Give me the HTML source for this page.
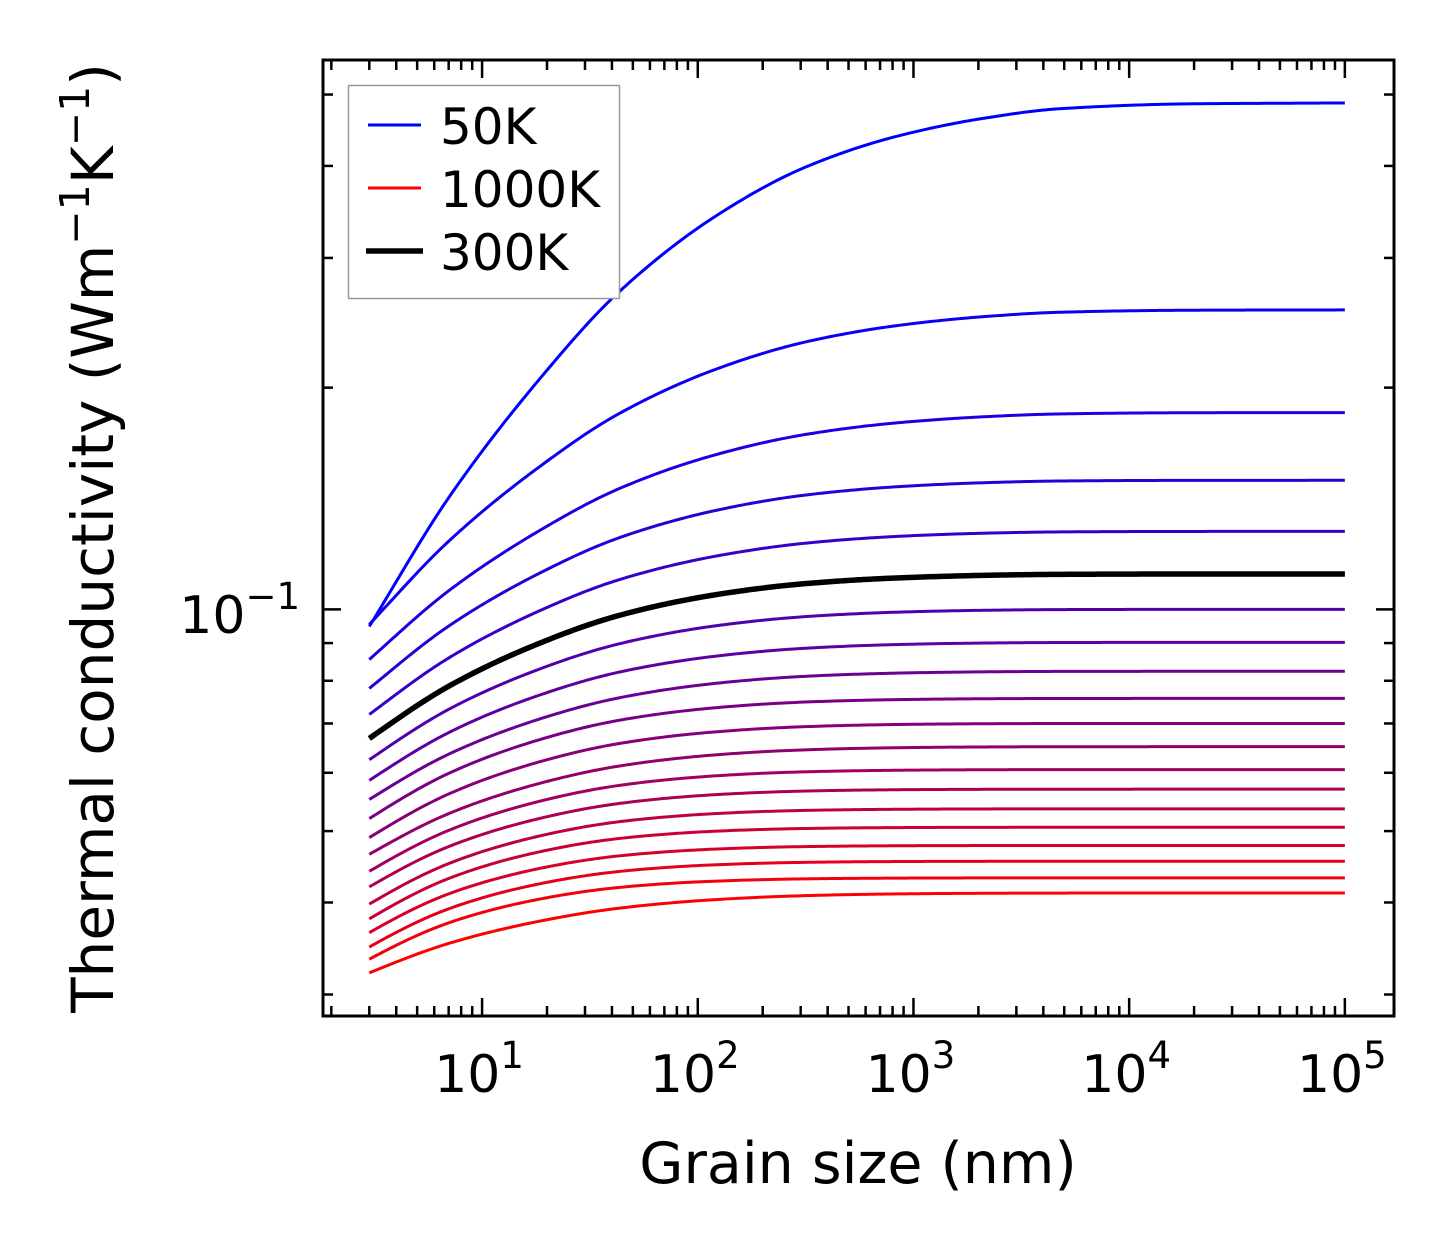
<!DOCTYPE html>
<html><head><meta charset="utf-8"><style>
html,body{margin:0;padding:0;background:#fff;}
svg{display:block;font-family:"DejaVu Sans","Liberation Sans",sans-serif;}
</style></head><body>
<svg id="chart" width="1454" height="1254" viewBox="0 0 1454 1254" xmlns="http://www.w3.org/2000/svg">
<rect width="1454" height="1254" fill="#fff"/>
<g id="curves"></g>
<g id="ticks"></g>
<rect x="323" y="60" width="1071" height="956" fill="none" stroke="#000" stroke-width="3"/>
<g id="xlabels" font-size="52" text-anchor="middle"></g>
<g font-size="52" text-anchor="end">
<text x="300" y="633">10<tspan font-size="37" dy="-24">−1</tspan></text>
</g>
<text x="858" y="1183" font-size="57" text-anchor="middle">Grain size (nm)</text>
<text transform="translate(113,538) rotate(-90)" font-size="58" text-anchor="middle">Thermal conductivity (Wm<tspan font-size="41" dy="-24">−1</tspan><tspan dy="24">K</tspan><tspan font-size="41" dy="-24">−1</tspan><tspan dy="24">)</tspan></text>
<g>
<rect x="348.5" y="85.5" width="271" height="213" fill="#fff" stroke="#999" stroke-width="1.5"/>
<line x1="368" y1="125" x2="421" y2="125" stroke="#0000ff" stroke-width="3"/>
<text x="440" y="144" font-size="50">50K</text>
<line x1="368" y1="188" x2="421" y2="188" stroke="#ff0000" stroke-width="3"/>
<text x="440" y="207" font-size="50">1000K</text>
<line x1="366" y1="251" x2="423" y2="251" stroke="#000" stroke-width="5.5"/>
<text x="440" y="270" font-size="50">300K</text>
</g>
</svg>
<script>
// Data
const temperatures = [50,100,150,200,250,300,350,400,450,500,550,600,650,700,750,800,850,900,950,1000];
const kAt3nm  = [0.0948,0.0954,0.0855,0.0781,0.0720,0.0668,0.0625,0.0586,0.0552,0.0520,0.0490,0.0465,0.0441,0.0420,0.0398,0.0380,0.0364,0.0348,0.0335,0.0321];
const kAt20nm = [0.2112,0.1589,0.1297,0.1133,0.1006,0.0908,0.0837,0.0771,0.0715,0.0670,0.0625,0.0584,0.0552,0.0523,0.0495,0.0471,0.0447,0.0426,0.0406,0.0379];
const kBulk   = [0.487,0.255,0.185,0.1497,0.1276,0.1117,0.1000,0.0902,0.0824,0.0757,0.0700,0.0651,0.0606,0.0570,0.0536,0.0506,0.0478,0.0455,0.0432,0.0412];
// normalized approach-to-bulk shape
const grainSizes = [3,7.03,18.4,43.1,123,318,830,2143,4775,20000,100000];
const shapeFrac  = [1,0.761,0.541,0.375,0.227,0.132,0.071,0.033,0.013,0.002,0];
const highlightT = 300;
const xTicks = [10,100,1000,10000,100000];
const xTickLabels = ["1","2","3","4","5"];

// Axes
const X0=323,X1=1394,Y0=60,Y1=1016;
const xMinL=Math.log10(1.83), xMaxL=Math.log10(169000);
const yMinL=Math.log10(0.02805), yMaxL=Math.log10(0.557);
const xs=v=>X0+(Math.log10(v)-xMinL)/(xMaxL-xMinL)*(X1-X0);
const ys=v=>Y1-(Math.log10(v)-yMinL)/(yMaxL-yMinL)*(Y1-Y0);
const NS="http://www.w3.org/2000/svg";
function mk(tag,attrs,parent){const e=document.createElementNS(NS,tag);for(const k in attrs)e.setAttribute(k,attrs[k]);parent.appendChild(e);return e;}

// smooth monotone interpolation of shape in log-size space
const LX=grainSizes.map(g=>Math.log10(g));
const nS=LX.length,dX=[],mS=[],tS=[];
for(let i=0;i<nS-1;i++){dX[i]=LX[i+1]-LX[i];mS[i]=(shapeFrac[i+1]-shapeFrac[i])/dX[i];}
tS[0]=mS[0];tS[nS-1]=mS[nS-2];
for(let i=1;i<nS-1;i++){
  if(mS[i-1]*mS[i]<=0){tS[i]=0;continue;}
  const w1=2*dX[i]+dX[i-1],w2=dX[i]+2*dX[i-1];
  tS[i]=(w1+w2)/(w1/mS[i-1]+w2/mS[i]);
}
function shapeAt(L){
  const l=Math.log10(L);
  for(let j=0;j<nS-1;j++){
    if(l>=LX[j]-1e-9&&l<=LX[j+1]+1e-9){
      const h=dX[j],s=(l-LX[j])/h,s2=s*s,s3=s2*s;
      return (2*s3-3*s2+1)*shapeFrac[j]+(s3-2*s2+s)*h*tS[j]+(-2*s3+3*s2)*shapeFrac[j+1]+(s3-s2)*h*tS[j+1];
    }
  }
  return 0;
}
function seriesPath(i){
  const a=Math.log10(kAt3nm[i]),b=Math.log10(kBulk[i]),c=Math.log10(kAt20nm[i]);
  const h20=Math.min(0.99,Math.max(0.01,(b-c)/(b-a)));
  const p=Math.log(h20)/Math.log(shapeAt(20));
  const l0=Math.log10(grainSizes[0]),l1=Math.log10(grainSizes[nS-1]);
  let d='';
  for(let s=0;s<=300;s++){
    const L=Math.pow(10,l0+(l1-l0)*s/300);
    const h=Math.max(0,shapeAt(L));
    const y=ys(Math.pow(10,b-(b-a)*Math.pow(h,p)));
    d+=(s?'L':'M')+xs(L).toFixed(2)+','+y.toFixed(2);
  }
  return d;
}
const cg=document.getElementById('curves');
const n=temperatures.length;
let hi=-1;
for(let i=0;i<n;i++){
  const t=i/(n-1);
  const col=`rgb(${Math.round(255*t)},0,${Math.round(255*(1-t))})`;
  const p=mk('path',{d:seriesPath(i),fill:'none',stroke:col,'stroke-width':3,'stroke-linejoin':'round'},cg);
  
  
  if(temperatures[i]===highlightT)hi=i;
}
if(hi>=0){
  const p=mk('path',{d:seriesPath(hi),fill:'none',stroke:'#000','stroke-width':5.5,'stroke-linejoin':'round'},cg);
  
  
}

// ticks
const tg=document.getElementById('ticks');
function tick(x1,y1,x2,y2){mk('line',{x1,y1,x2,y2,stroke:'#000','stroke-width':2.5},tg);}
for(let e=0;e<=5;e++){
  for(let m=1;m<10;m++){
    const v=m*Math.pow(10,e);const x=xs(v);
    if(x<X0+1||x>X1-1)continue;
    const L=m===1?18:10;
    tick(x,Y1,x,Y1-L);tick(x,Y0,x,Y0+L);
  }
}
for(let e=-2;e<=-1;e++){
  for(let m=1;m<10;m++){
    const v=m*Math.pow(10,e);const y=ys(v);
    if(y<Y0+1||y>Y1-1)continue;
    const L=m===1?18:10;
    tick(X0,y,X0+L,y);tick(X1,y,X1-L,y);
  }
}
const xl=document.getElementById('xlabels');
xTicks.forEach((v,i)=>{
  const t=mk('text',{x:xs(v)-3,y:1092},xl);
  
  
  t.textContent='10';
  const s=mk('tspan',{'font-size':37,dy:-24},t);s.textContent=xTickLabels[i];
});
</script>
</body></html>
